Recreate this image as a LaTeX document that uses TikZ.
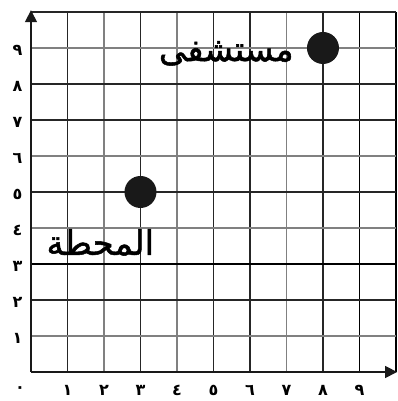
\documentclass[tikz,border=0pt]{standalone}
\usepackage{fontspec}
\newfontfamily\arabicfont[Script=Arabic,FakeBold=1.5]{DejaVu Sans}
\newfontfamily\digitfont{DejaVu Sans}
\TeXXeTstate=1
\usetikzlibrary{arrows.meta}
\begin{document}
\begin{tikzpicture}[x=36.5pt,y=36pt,
  darkline/.style={black!85,line width=1.2pt},
  grayline/.style={black!50,line width=1.5pt},
  thickline/.style={black,line width=1.9pt},
  axisline/.style={black!90,line width=1.5pt,-{Triangle[length=12pt,width=12pt]}},
  dot/.style={circle,fill=black!90,minimum size=32pt,inner sep=0pt},
  numlab/.style={font=\digitfont\bfseries\fontsize{16}{16}\selectfont,inner sep=0pt},
  placelab/.style={font=\arabicfont\fontsize{34}{34}\selectfont,inner sep=0pt}]
\useasboundingbox (-0.849,-0.806) rectangle (10.055,10.333);
\fill[white] (-0.849,-0.806) rectangle (10.055,10.333);
% vertical lines
\foreach \i in {1,3,5,6,8} \draw[darkline] (\i,0) -- (\i,10);
\foreach \i in {2,4,7} \draw[grayline] (\i,0) -- (\i,10);
\draw[thickline] (9,0) -- (9,10);
\draw[thickline] (10,0) -- (10,10);
% horizontal lines
\foreach \j in {2,5,7,8} \draw[darkline] (0,\j) -- (10,\j);
\foreach \j in {1,4,6,9} \draw[grayline] (0,\j) -- (10,\j);
\draw[thickline] (0,3) -- (10,3);
\draw[darkline] (0,10) -- (10,10);
% axes
\coordinate (O) at (0,0);
\coordinate (Ytop) at (0,10.05);
\coordinate (Xend) at (10.03,0);
\draw[axisline] (O) -- (Ytop);
\draw[axisline] (O) -- (Xend);
% axis labels
\node[numlab] (x0) at (-0.3,-0.5) {٠};
\node[numlab] (x1) at (1,-0.5) {١};
\node[numlab] (x2) at (2,-0.5) {٢};
\node[numlab] (x3) at (3,-0.5) {٣};
\node[numlab] (x4) at (4,-0.5) {٤};
\node[numlab] (x5) at (5,-0.5) {٥};
\node[numlab] (x6) at (6,-0.5) {٦};
\node[numlab] (x7) at (7,-0.5) {٧};
\node[numlab] (x8) at (8,-0.5) {٨};
\node[numlab] (x9) at (9,-0.5) {٩};
\node[numlab] (y1) at (-0.37,0.92) {١};
\node[numlab] (y2) at (-0.37,1.92) {٢};
\node[numlab] (y3) at (-0.37,2.92) {٣};
\node[numlab] (y4) at (-0.37,3.92) {٤};
\node[numlab] (y5) at (-0.37,4.92) {٥};
\node[numlab] (y6) at (-0.37,5.92) {٦};
\node[numlab] (y7) at (-0.37,6.92) {٧};
\node[numlab] (y8) at (-0.37,7.92) {٨};
\node[numlab] (y9) at (-0.37,8.92) {٩};
% points
\node[dot] (hosp) at (8,9) {};
\node[dot] (stat) at (3,5) {};
\node[placelab] (hosplab) at (5.35,8.85) {\beginR مستشفى\endR};
\node[placelab] (statlab) at (1.9,3.6) {\beginR المحطة\endR};
\end{tikzpicture}
\end{document}
